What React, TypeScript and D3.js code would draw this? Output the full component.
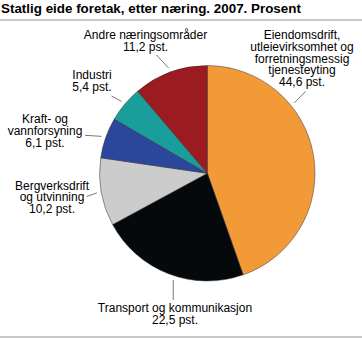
import React from "react";
import * as d3 from "d3";

const title = "Statlig eide foretak, etter næring. 2007. Prosent";
const categories = [
  "Eiendomsdrift, utleievirksomhet og forretningsmessig tjenesteyting",
  "Transport og kommunikasjon",
  "Bergverksdrift og utvinning",
  "Kraft- og vannforsyning",
  "Industri",
  "Andre næringsområder",
];
const values = [44.6, 22.5, 10.2, 6.1, 5.4, 11.2];
const labelLines = [
  ["Eiendomsdrift,", "utleievirksomhet og", "forretningsmessig", "tjenesteyting"],
  ["Transport og kommunikasjon"],
  ["Bergverksdrift", "og utvinning"],
  ["Kraft- og", "vannforsyning"],
  ["Industri"],
  ["Andre næringsområder"],
];
const colors = ["#f39a38", "#05090b", "#cccccc", "#2a479b", "#1a9e9c", "#9b1b21"];

// label layout (annotation placement)
const labelLayout = [
  { x: 302, y: 39, leaderAngle: 51, outer: [305.5, 91.5] },
  { x: 175, y: 312, leaderAngle: 197.7, outer: null as null | number[], vertical: 300 },
  { x: 52, y: 189.5, leaderAngle: null as null | number, outer: [86.5, 196.5] },
  { x: 45, y: 123, leaderAngle: null, outer: [85, 135.3] },
  { x: 92, y: 79, leaderAngle: null, outer: [111.5, 96] },
  { x: 145.5, y: 39, leaderAngle: null, outer: [156.5, 55] },
];

const W = 362;
const H = 338;
const cx = 207.3;
const cy = 173.3;
const R = 107.7;
const lineH = 11.8;
const font = "'Liberation Sans', Arial, Helvetica, sans-serif";

export default function App() {
  const pie = d3
    .pie<number>()
    .sort(null)
    .value((d) => d)
    .startAngle(0)
    .endAngle(2 * Math.PI);
  const arcs = pie(values);
  const arc = d3.arc<d3.PieArcDatum<number>>().innerRadius(0).outerRadius(R);

  const polar = (ang: number, r: number) => [cx + r * Math.sin(ang), cy - r * Math.cos(ang)];

  return (
    <svg
      width={W}
      height={H}
      style={{ position: "absolute", left: 0, top: 0, background: "#fff" }}
      fontFamily={font}
    >
      <text x={1} y={12.5} fontSize={13.4} fontWeight="bold" fill="#000">
        {title}
      </text>
      <rect x={0} y={19} width={W} height={2} fill="#c8c8c8" />
      <rect x={0} y={336} width={W} height={2} fill="#c8c8c8" />

      <g transform={`translate(${cx},${cy})`}>
        {arcs.map((a, i) => (
          <path key={categories[i]} d={arc(a) || ""} fill={colors[i]} stroke="#333" strokeWidth={0.5} />
        ))}
      </g>

      {arcs.map((a, i) => {
        const L = labelLayout[i];
        const ang =
          L.leaderAngle != null ? (L.leaderAngle * Math.PI) / 180 : (a.startAngle + a.endAngle) / 2;
        const inner = polar(ang, R + 4.3);
        const outer = L.outer ? L.outer : [inner[0], (L as any).vertical];
        const lines = [...labelLines[i], `${String(values[i]).replace(".", ",")} pst.`];
        return (
          <g key={"lab" + i}>
            <line x1={inner[0]} y1={inner[1]} x2={outer[0]} y2={outer[1]} stroke="#555" strokeWidth={0.8} />
            <text x={L.x} y={L.y} fontSize={12} textAnchor="middle" fill="#000">
              {lines.map((t, j) => (
                <tspan key={j} x={L.x} y={L.y + j * lineH}>
                  {t}
                </tspan>
              ))}
            </text>
          </g>
        );
      })}
    </svg>
  );
}
